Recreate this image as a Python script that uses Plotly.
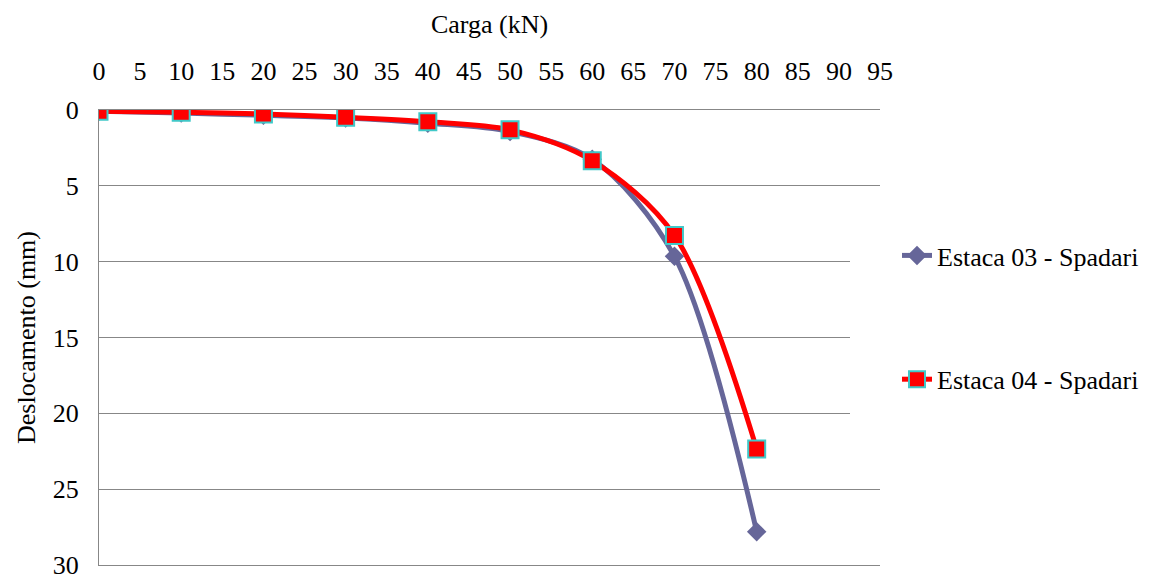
import plotly.graph_objects as go

carga = [0, 10, 20, 30, 40, 50, 60, 70, 80]
estaca03 = [0.08, 0.2, 0.35, 0.52, 0.87, 1.42, 3.25, 9.65, 27.8]
estaca04 = [0.08, 0.15, 0.26, 0.48, 0.77, 1.31, 3.35, 8.27, 22.35]

FONT = "Liberation Serif"
FS = 26

fig = go.Figure()
fig.add_trace(go.Scatter(
    x=carga, y=estaca03, name="Estaca 03 - Spadari", legendgroup="a",
    mode="lines+markers", line=dict(color="#666699", width=5, shape="spline", smoothing=0.9),
    marker=dict(symbol="diamond", size=15, color="#666699")))
fig.add_trace(go.Scatter(
    x=carga, y=estaca04, name="Estaca 04 - Spadari", legendgroup="b",
    mode="lines+markers", line=dict(color="#FF0000", width=5, shape="spline", smoothing=0.9),
    marker=dict(symbol="square", size=17, color="#FF0000", line=dict(color="#40C8C8", width=2))))

W, H = 1144, 571
fig.update_layout(
    width=W, height=H,
    margin=dict(l=91, r=272, t=102, b=14),
    paper_bgcolor="white", plot_bgcolor="white",
    font=dict(family=FONT, size=FS, color="black"),
    xaxis=dict(side="top", range=[0, 95], dtick=5, tick0=0, showgrid=False,
               showline=True, mirror=True, linecolor="#878787", linewidth=1,
               zeroline=False, ticks="", ticklabelstandoff=19, automargin=False,
               ticklabeloverflow="allow",
               title=dict(text="Carga (kN)", standoff=15, font=dict(family=FONT, size=FS))),
    yaxis=dict(range=[30, 0], dtick=5, tick0=0, showgrid=True, gridcolor="#878787", gridwidth=1,
               showline=True, linecolor="#878787", linewidth=1, zeroline=False, ticks="",
               ticklabelstandoff=14, automargin=False, ticklabeloverflow="allow",
               title=dict(text="Deslocamento (mm)", standoff=9, font=dict(family=FONT, size=FS))),
    legend=dict(xref="container", yref="container", x=889 / W, xanchor="left",
                y=1 - 224 / H, yanchor="top",
                bgcolor="rgba(0,0,0,0)", tracegroupgap=87, traceorder="grouped",
                font=dict(family=FONT, size=FS, color="black")),
    shapes=[dict(type="rect", xref="paper", yref="y", x0=(842 - 91) / 781, x1=1.0,
                 y0=7, y1=22, fillcolor="white", line=dict(width=0), layer="above")],
)

fig.write_html("out.html")
